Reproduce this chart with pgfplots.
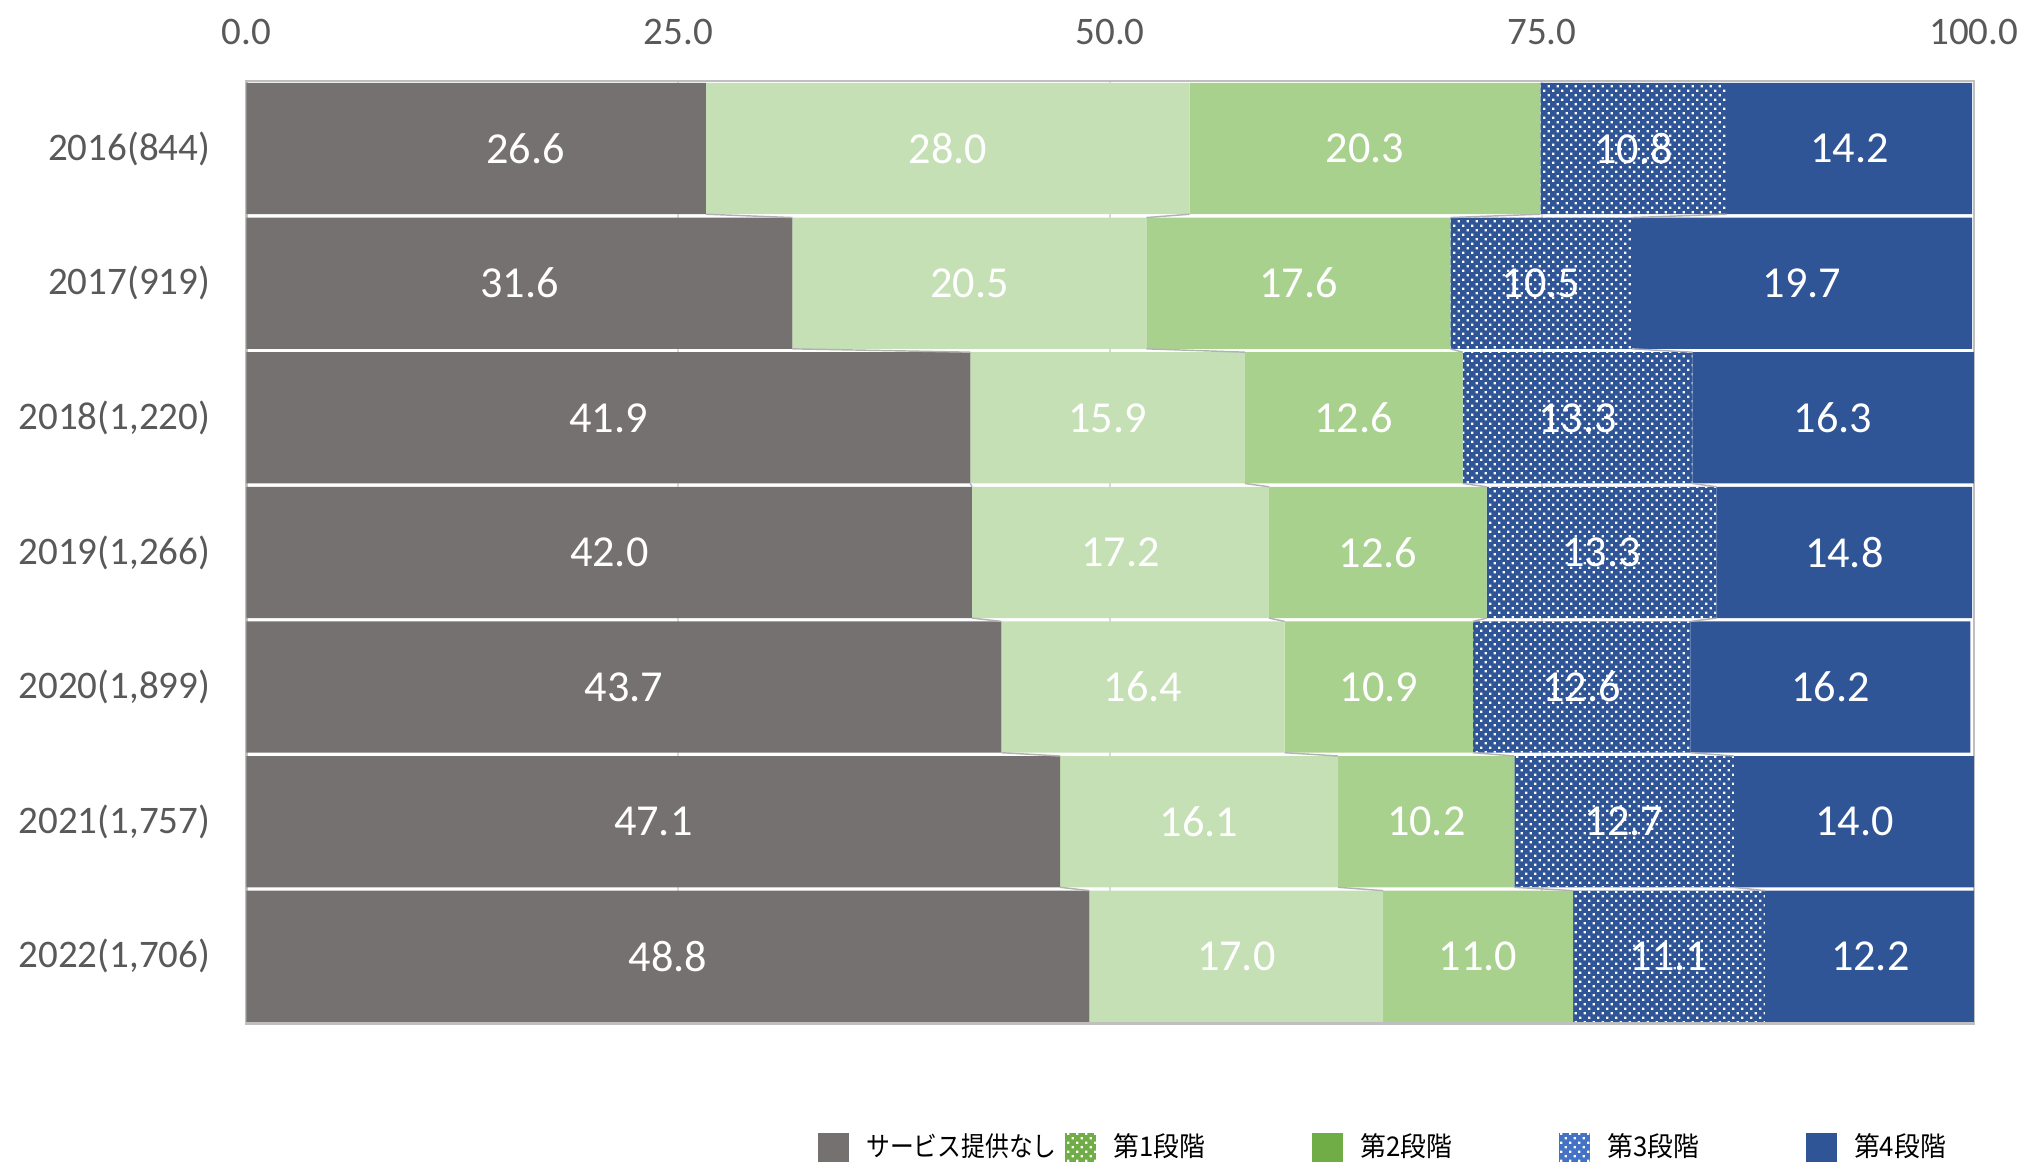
\documentclass[border=0pt]{standalone}
\usepackage{fontspec}
\setmainfont{Carlito}
\newfontfamily\jp{Noto Sans CJK JP}
\usepackage{pgfplots}
\usepackage{pgfplotstable}
\pgfplotsset{compat=1.18}
\usetikzlibrary{patterns}

\pgfdeclarepatternformonly{sdots}{\pgfqpoint{0pt}{0pt}}{\pgfqpoint{3.1pt}{3.1pt}}{\pgfqpoint{3.1pt}{3.1pt}}{%
  \pgfpathrectangle{\pgfqpoint{0.4pt}{0.4pt}}{\pgfqpoint{0.75pt}{0.75pt}}%
  \pgfpathrectangle{\pgfqpoint{1.95pt}{1.95pt}}{\pgfqpoint{0.75pt}{0.75pt}}%
  \pgfusepath{fill}}

\definecolor{cgray}{HTML}{767171}
\definecolor{clgreen}{HTML}{C5E0B4}
\definecolor{cgreen}{HTML}{A9D18E}
\definecolor{cblue}{HTML}{2F5597}
\definecolor{lgreen}{HTML}{70AD47}
\definecolor{lblue}{HTML}{4472C4}
\definecolor{tickc}{HTML}{595959}
\definecolor{framec}{HTML}{BFBFBF}
\definecolor{gridc}{HTML}{D9D9D9}

\pgfplotstableread{
idx s1 s2 s3 s4 s5
0 26.6 28.0 20.3 10.8 14.2
1 31.6 20.5 17.6 10.5 19.7
2 41.9 15.9 12.6 13.3 16.3
3 42.0 17.2 12.6 13.3 14.8
4 43.7 16.4 10.9 12.6 16.2
5 47.1 16.1 10.2 12.7 14.0
6 48.8 17.0 11.0 11.1 12.2
}\data

% cumulative ends
\pgfplotstablecreatecol[create col/expr={\thisrow{s1}}]{k1}\data
\pgfplotstablecreatecol[create col/expr={\thisrow{k1}+\thisrow{s2}}]{k2}\data
\pgfplotstablecreatecol[create col/expr={\thisrow{k2}+\thisrow{s3}}]{k3}\data
\pgfplotstablecreatecol[create col/expr={\thisrow{k3}+\thisrow{s4}}]{k4}\data
% segment centres
\pgfplotstablecreatecol[create col/expr={\thisrow{s1}/2}]{m1}\data
\pgfplotstablecreatecol[create col/expr={\thisrow{k1}+\thisrow{s2}/2}]{m2}\data
\pgfplotstablecreatecol[create col/expr={\thisrow{k2}+\thisrow{s3}/2}]{m3}\data
\pgfplotstablecreatecol[create col/expr={\thisrow{k3}+\thisrow{s4}/2}]{m4}\data
\pgfplotstablecreatecol[create col/expr={\thisrow{k4}+\thisrow{s5}/2}]{m5}\data
% differences to previous row (series lines)
\pgfplotstablecreatecol[create col/assign/.code={%
  \ifnum\pgfplotstablerow=0 \def\entry{0}\else\pgfmathsetmacro\entry{\prevrow{k1}-\thisrow{k1}}\fi
  \pgfkeyslet{/pgfplots/table/create col/next content}\entry}]{d1}\data
\pgfplotstablecreatecol[create col/assign/.code={%
  \ifnum\pgfplotstablerow=0 \def\entry{0}\else\pgfmathsetmacro\entry{\prevrow{k2}-\thisrow{k2}}\fi
  \pgfkeyslet{/pgfplots/table/create col/next content}\entry}]{d2}\data
\pgfplotstablecreatecol[create col/assign/.code={%
  \ifnum\pgfplotstablerow=0 \def\entry{0}\else\pgfmathsetmacro\entry{\prevrow{k3}-\thisrow{k3}}\fi
  \pgfkeyslet{/pgfplots/table/create col/next content}\entry}]{d3}\data
\pgfplotstablecreatecol[create col/assign/.code={%
  \ifnum\pgfplotstablerow=0 \def\entry{0}\else\pgfmathsetmacro\entry{\prevrow{k4}-\thisrow{k4}}\fi
  \pgfkeyslet{/pgfplots/table/create col/next content}\entry}]{d4}\data

\pgfplotsset{
  base/.style={
    width=597.4pt, height=325.9pt, scale only axis,
    xmin=0, xmax=100, ymin=-0.5, ymax=6.5, y dir=reverse,
  },
  lab/.style={draw=none, no markers, point meta=explicit,
    nodes near coords={\pgfmathprintnumber[fixed,zerofill,precision=1,assume math mode=true]{\pgfplotspointmeta}},
    every node near coord/.append style={anchor=center, text=white, font=\fontsize{15.3}{18}\selectfont, inner sep=0pt}},
  sl/.style={no markers, draw=gray!60, line width=0.5pt, skip coords between index={0}{1}},
}

\begin{document}
\begin{tikzpicture}
\path[use as bounding box] (-85.25pt,-48.2pt) rectangle (614.75pt,354pt);
\begin{axis}[base,
  xbar stacked, bar width=45.4pt,
  axis line style={framec, line width=0.8pt},
  xmajorgrids, major grid style={gridc, line width=0.6pt},
  xtick={0,25,50,75,100}, xticklabel pos=upper,
  major tick length=0pt,
  xticklabel style={yshift=9pt, text=tickc, font=\fontsize{13.5}{16}\selectfont,
    /pgf/number format/.cd, fixed, zerofill, precision=1, assume math mode=true},
  ytick={0,...,6},
  yticklabels={2016(844),2017(919),{2018(1,220)},{2019(1,266)},{2020(1,899)},{2021(1,757)},{2022(1,706)}},
  yticklabel style={text=tickc, font=\fontsize{13.5}{16}\selectfont, xshift=-9pt},
  legend columns=5,
  legend style={at={(axis description cs:0.3306,-0.1316)}, anchor=west, draw=none, fill=none,
    inner sep=0pt, font=\jp\fontsize{9.4}{11}\selectfont,
    /tikz/every odd column/.append style={column sep=4pt}},
  legend image code/.code={\path[#1] (0pt,-4.9pt) rectangle (10.7pt,4.9pt);},
]
\addplot[fill=cgray, draw=none, forget plot] table[x=s1, y=idx] \data;
\addplot[fill=clgreen, draw=none, forget plot] table[x=s2, y=idx] \data;
\addplot[fill=cgreen, draw=none, forget plot] table[x=s3, y=idx] \data;
\addplot[fill=cblue, draw=none, postaction={pattern=sdots, pattern color=white}, forget plot] table[x=s4, y=idx] \data;
\addplot[fill=cblue, draw=none, forget plot] table[x=s5, y=idx] \data;

\addlegendimage{fill=cgray, draw=none}
\addlegendentry{\makebox[66.7pt][l]{\scalebox{0.875}[1]{サービス提供なし}}}
\addlegendimage{fill=lgreen, draw=none, postaction={pattern=sdots, pattern color=white}}
\addlegendentry{\makebox[66.7pt][l]{\scalebox{0.95}[1]{第1段階}}}
\addlegendimage{fill=lgreen, draw=none}
\addlegendentry{\makebox[66.7pt][l]{\scalebox{0.95}[1]{第2段階}}}
\addlegendimage{fill=lblue, draw=none, postaction={pattern=sdots, pattern color=white}}
\addlegendentry{\makebox[66.7pt][l]{\scalebox{0.95}[1]{第3段階}}}
\addlegendimage{fill=cblue, draw=none}
\addlegendentry{\makebox[66.7pt][l]{\scalebox{0.95}[1]{第4段階}}}
\end{axis}
\begin{axis}[base, hide axis]
\addplot[sl, quiver={u=\thisrow{d1}, v=-0.0248}] table[x=k1, y expr=\thisrow{idx}-0.4876] \data;
\addplot[sl, quiver={u=\thisrow{d2}, v=-0.0248}] table[x=k2, y expr=\thisrow{idx}-0.4876] \data;
\addplot[sl, quiver={u=\thisrow{d3}, v=-0.0248}] table[x=k3, y expr=\thisrow{idx}-0.4876] \data;
\addplot[sl, quiver={u=\thisrow{d4}, v=-0.0248}] table[x=k4, y expr=\thisrow{idx}-0.4876] \data;
\addplot[lab, coordinate style/.condition={\coordindex==0}{xshift=17pt}] table[x=m1, y=idx, meta=s1] \data;
\addplot[lab] table[x=m2, y=idx, meta=s2] \data;
\addplot[lab] table[x=m3, y=idx, meta=s3] \data;
\addplot[lab] table[x=m4, y=idx, meta=s4] \data;
\addplot[lab] table[x=m5, y=idx, meta=s5] \data;
\end{axis}
\end{tikzpicture}
\end{document}
